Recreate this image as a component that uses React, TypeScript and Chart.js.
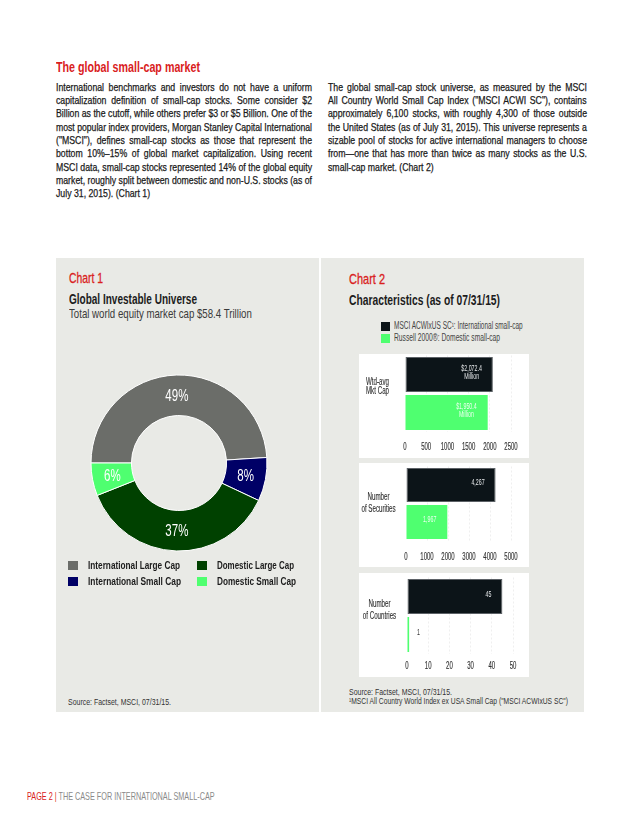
import React, { useEffect, useRef } from "react";
import { Chart, registerables } from "chart.js";
Chart.register(...registerables);

// ---------- data ----------
const universeCategories = ["International Large Cap", "International Small Cap", "Domestic Large Cap", "Domestic Small Cap"];
const universeShares = [49, 8, 37, 6];
const universeColors = ["#6b6d69", "#000066", "#004100", "#4fff70"];

const seriesNames = ["MSCI ACWIxUS SC\u00b9: International small-cap", "Russell 2000\u00ae: Domestic small-cap"];
const seriesColors = ["#0c1418", "#4fff70"];
const metricLabels = [["Wtd-avg", "Mkt Cap"], ["Number", "of Securities"], ["Number", "of Countries"]];
const intlValues = [2072.4, 4267, 45];
const domValues = [1950.4, 1967, 1];
const intlValueText = [["$2,072.4", "Million"], ["4,267"], ["45"]];
const domValueText = [["$1,950.4", "Million"], ["1,967"], ["1"]];
const axisMax = [2500, 5000, 50];
const axisStep = [500, 1000, 10];

const leftParagraph = [
  "International benchmarks and investors do not have a uniform",
  "capitalization definition of small-cap stocks. Some consider $2",
  "Billion as the cutoff, while others prefer $3 or $5 Billion. One of the",
  "most popular index providers, Morgan Stanley Capital International",
  "(\"MSCI\"), defines small-cap stocks as those that represent the",
  "bottom 10%\u201315% of global market capitalization. Using recent",
  "MSCI data, small-cap stocks represented 14% of the global equity",
  "market, roughly split between domestic and non-U.S. stocks (as of",
  "July 31, 2015). (Chart 1)",
];
const rightParagraph = [
  "The global small-cap stock universe, as measured by the MSCI",
  "All Country World Small Cap Index (\"MSCI ACWI SC\"), contains",
  "approximately 6,100 stocks, with roughly 4,300 of those outside",
  "the United States (as of July 31, 2015). This universe represents a",
  "sizable pool of stocks for active international managers to choose",
  "from\u2014one that has more than twice as many stocks as the U.S.",
  "small-cap market. (Chart 2)",
];

// ---------- helpers ----------
const FAMILY = '"Liberation Sans", Arial, Helvetica, sans-serif';
const RED = "#d9211d";
const PANEL = "#e9eae6";
const BODY_SX = 0.84;

let mctx: CanvasRenderingContext2D | null = null;
function textWidth(text: string, size: number, weight: string) {
  if (!mctx) mctx = document.createElement("canvas").getContext("2d");
  mctx!.font = `${weight} ${size}px ${FAMILY}`;
  return mctx!.measureText(text).width;
}

function drawCond(ctx: CanvasRenderingContext2D, text: string, x: number, y: number, o: any) {
  ctx.save();
  ctx.font = `${o.weight || "normal"} ${o.size}px ${FAMILY}`;
  ctx.fillStyle = o.color;
  ctx.textBaseline = "middle";
  ctx.textAlign = "left";
  const w = ctx.measureText(text).width * o.sx;
  const left = o.align === "center" ? x - w / 2 : o.align === "right" ? x - w : x;
  ctx.translate(left, y);
  ctx.scale(o.sx, 1);
  ctx.fillText(text, 0, 0);
  if (o.stroke) {
    ctx.strokeStyle = o.color;
    ctx.lineWidth = o.stroke;
    ctx.strokeText(text, 0, 0);
  }
  ctx.restore();
  return w;
}

function FitText({ x, cy, w, text, size, weight = "normal", color = "#222", stroke = 0, children }: any) {
  const nat = textWidth(text, size, weight);
  const s = w / nat;
  const lh = size * 1.2;
  return (
    <div
      style={{
        position: "absolute",
        left: x,
        top: cy - lh / 2 + 0.0115 * size,
        fontFamily: FAMILY,
        fontSize: size,
        fontWeight: weight as any,
        lineHeight: `${lh}px`,
        whiteSpace: "nowrap",
        color,
        WebkitTextStroke: stroke ? `${stroke}px currentColor` : undefined,
        transform: `scaleX(${s})`,
        transformOrigin: "0 0",
      }}
    >
      {children ?? text}
    </div>
  );
}

function Paragraph({ x, top, w, lines, size = 10.4, lh = 13.35 }: any) {
  return (
    <>
      {lines.map((text: string, i: number) => {
        const nat = textWidth(text, size, "normal");
        const s = Math.min(BODY_SX, w / nat);
        const last = i === lines.length - 1;
        const spaces = (text.match(/ /g) || []).length;
        const ws = !last && spaces ? (w / s - nat) / spaces : 0;
        return (
          <div
            key={i}
            style={{
              position: "absolute",
              left: x,
              top: top + i * lh,
              fontFamily: FAMILY,
              fontSize: size,
              lineHeight: `${lh}px`,
              whiteSpace: "nowrap",
              wordSpacing: ws,
              color: "#1a1a1a",
              WebkitTextStroke: "0.25px #1a1a1a",
              transform: `scaleX(${s})`,
              transformOrigin: "0 0",
            }}
          >
            {text}
          </div>
        );
      })}
    </>
  );
}

// ---------- doughnut ----------
const donutLabelPlugin = {
  id: "donutLabels",
  afterDatasetsDraw(chart: any) {
    const ctx = chart.ctx;
    const meta = chart.getDatasetMeta(0);
    meta.data.forEach((arc: any, i: number) => {
      const p = arc.getCenterPoint();
      drawCond(ctx, `${chart.data.datasets[0].data[i]}%`, p.x, p.y + 1, { size: 16, color: "#ffffff", sx: 0.72, align: "center" });
    });
  },
};

function Donut() {
  const ref = useRef<HTMLCanvasElement>(null);
  useEffect(() => {
    const chart = new Chart(ref.current!, {
      type: "doughnut",
      data: {
        labels: universeCategories,
        datasets: [
          {
            data: universeShares,
            backgroundColor: universeColors,
            borderColor: "#ffffff",
            borderWidth: 1,
          },
        ],
      },
      options: {
        responsive: false,
        animation: false,
        rotation: -90,
        radius: 88,
        cutout: "54%",
        layout: { padding: 0 },
        plugins: { legend: { display: false }, tooltip: { enabled: false } },
      } as any,
      plugins: [donutLabelPlugin],
    });
    return () => chart.destroy();
  }, []);
  return <canvas ref={ref} width={200} height={200} style={{ position: "absolute", left: 79, top: 363, width: 200, height: 200 }} />;
}

// ---------- bar panels ----------
const metricPlugin = {
  id: "metricText",
  afterDatasetsDraw(chart: any, _args: any, opts: any) {
    const ctx = chart.ctx;
    const xs = chart.scales.x;
    const ys = chart.scales.y;
    const area = chart.chartArea;
    xs.ticks.forEach((t: any, i: number) => {
      drawCond(ctx, String(t.value), xs.getPixelForTick(i), area.bottom + opts.tickDy, { size: 10, color: "#333", sx: 0.6, align: "center", stroke: 0.15 });
    });
    chart.data.labels.forEach((lab: any, i: number) => {
      const lines = Array.isArray(lab) ? lab : [lab];
      const cy = ys.getPixelForValue(i) + opts.labelDy;
      lines.forEach((ln: string, k: number) => {
        drawCond(ctx, ln, area.left - 27.5, cy + (k - (lines.length - 1) / 2) * opts.labelLH, { size: 10, color: "#333", sx: 0.62, align: "center", stroke: 0.15 });
      });
    });
    chart.data.datasets.forEach((ds: any, di: number) => {
      const meta = chart.getDatasetMeta(di);
      meta.data.forEach((bar: any) => {
        const lines: string[] = ds.valueText;
        const len = bar.x - bar.base;
        const size = 8.5;
        const sx = 0.62;
        ctx.save();
        ctx.font = `normal ${size}px ${FAMILY}`;
        const maxW = Math.max(...lines.map((l) => ctx.measureText(l).width)) * sx;
        ctx.restore();
        const lh = 8;
        const inside = len > 30;
        const cx = inside ? bar.x - 11 - maxW / 2 : bar.x + 8 + maxW / 2;
        const color = inside ? (di === 0 ? "#e4e6e8" : "#eaffee") : "#333333";
        const top = bar.y - 2 - ((lines.length - 1) * lh) / 2;
        lines.forEach((ln, k) => drawCond(ctx, ln, cx, top + k * lh, { size, color, sx, align: "center" }));
      });
    });
  },
};

function MetricChart({ idx, top, pad, tickDy, labelDy, labelLH }: any) {
  const ref = useRef<HTMLCanvasElement>(null);
  useEffect(() => {
    const chart = new Chart(ref.current!, {
      type: "bar",
      data: {
        labels: [metricLabels[idx]],
        datasets: [
          {
            label: seriesNames[0],
            data: [intlValues[idx]],
            backgroundColor: seriesColors[0],
            borderColor: "#5c6166",
            borderWidth: 1,
            borderSkipped: false,
            barPercentage: 0.92,
            categoryPercentage: 1,
            valueText: intlValueText[idx],
          },
          {
            label: seriesNames[1],
            data: [domValues[idx]],
            backgroundColor: seriesColors[1],
            borderWidth: 0,
            barPercentage: 0.92,
            categoryPercentage: 1,
            valueText: domValueText[idx],
          },
        ] as any,
      },
      options: {
        indexAxis: "y",
        responsive: false,
        animation: false,
        layout: { padding: pad },
        plugins: { legend: { display: false }, tooltip: { enabled: false }, metricText: { tickDy, labelDy, labelLH } },
        scales: {
          x: {
            min: 0,
            max: axisMax[idx],
            ticks: { stepSize: axisStep[idx], display: false, padding: 0 },
            grid: {
              drawTicks: false,
              color: (c: any) => (c.tick && c.tick.value === 0 ? "rgba(0,0,0,0)" : "#efefef"),
              lineWidth: 1,
            },
            border: { display: false, dash: [2, 2] },
          },
          y: { display: false },
        },
      } as any,
      plugins: [metricPlugin],
    });
    return () => chart.destroy();
  }, []);
  return (
    <div style={{ position: "absolute", left: 359, top, width: 170, height: 104, background: "#ffffff" }}>
      <canvas ref={ref} width={170} height={104} style={{ width: 170, height: 104, display: "block" }} />
    </div>
  );
}

// ---------- page ----------
export default function App() {
  return (
    <div style={{ position: "absolute", left: 0, top: 0, width: 640, height: 828, background: "#ffffff", overflow: "hidden" }}>
      <FitText x={56} cy={67} w={144} text="The global small-cap market" size={15.5} weight="bold" color={RED} />
      <Paragraph x={56} top={80.6} w={256} lines={leftParagraph} />
      <Paragraph x={328} top={80.6} w={259} lines={rightParagraph} />

      {/* Chart 1 panel */}
      <div style={{ position: "absolute", left: 56, top: 258, width: 263, height: 454, background: PANEL }} />
      <FitText x={69} cy={278} w={34} text="Chart 1" size={15} color={RED} stroke={0.3} />
      <FitText x={69} cy={299} w={128} text="Global Investable Universe" size={15} color="#1c1c1c" weight="bold" />
      <FitText x={69} cy={313.5} w={183} text="Total world equity market cap $58.4 Trillion" size={13} color="#3a3a3a" />
      <Donut />
      {universeCategories.map((c, i) => {
        const col = Math.floor(i / 2);
        const row = i % 2;
        const widths = [92, 93, 77, 79];
        return (
          <React.Fragment key={c}>
            <div style={{ position: "absolute", left: col ? 197 : 68, top: row ? 577 : 561, width: 10, height: 9, background: universeColors[i] }} />
            <FitText x={col ? 217 : 88} cy={row ? 581.5 : 565.5} w={widths[i]} text={c} size={11.5} color="#1c1c1c" weight="bold" />
          </React.Fragment>
        );
      })}
      <FitText x={68} cy={702} w={103} text="Source: Factset, MSCI, 07/31/15." size={8.5} color="#333" />

      {/* Chart 2 panel */}
      <div style={{ position: "absolute", left: 321, top: 258, width: 263, height: 454, background: PANEL }} />
      <FitText x={349} cy={278.5} w={36} text="Chart 2" size={15} color={RED} stroke={0.3} />
      <FitText x={349} cy={299.5} w={151} text="Characteristics (as of 07/31/15)" size={15} color="#1c1c1c" weight="bold" />
      {seriesNames.map((n, i) => (
        <React.Fragment key={n}>
          <div style={{ position: "absolute", left: 381, top: i ? 334 : 322, width: 9, height: 9, background: seriesColors[i] }} />
          <FitText x={394} cy={i ? 338 : 326} w={i ? 106 : 129} text={n} size={10} color="#444" />
        </React.Fragment>
      ))}
      <MetricChart idx={0} top={354} pad={{ left: 46, right: 18, top: 1.5, bottom: 26.5 }} tickDy={15.5} labelDy={-7} labelLH={9.5} />
      <MetricChart idx={1} top={463} pad={{ left: 47, right: 18, top: 3.5, bottom: 26.5 }} tickDy={16.5} labelDy={-0.5} labelLH={12} />
      <MetricChart idx={2} top={573} pad={{ left: 48, right: 16, top: 4.5, bottom: 23.5 }} tickDy={12.5} labelDy={-5.5} labelLH={12.5} />
      <FitText x={349} cy={692} w={103} text="Source: Factset, MSCI, 07/31/15." size={8.5} color="#333" />
      <FitText x={349} cy={701} w={220} text={"\u00b9MSCI All Country World Index ex USA Small Cap (\"MSCI ACWIxUS SC\")"} size={8.5} color="#333" />

      {/* footer */}
      <FitText x={27} cy={796} w={188} text="PAGE 2 | THE CASE FOR INTERNATIONAL SMALL-CAP" size={10.5}>
        <span style={{ color: RED }}>PAGE 2 | </span>
        <span style={{ color: "#8a8a8a" }}>THE CASE FOR INTERNATIONAL SMALL-CAP</span>
      </FitText>
    </div>
  );
}
